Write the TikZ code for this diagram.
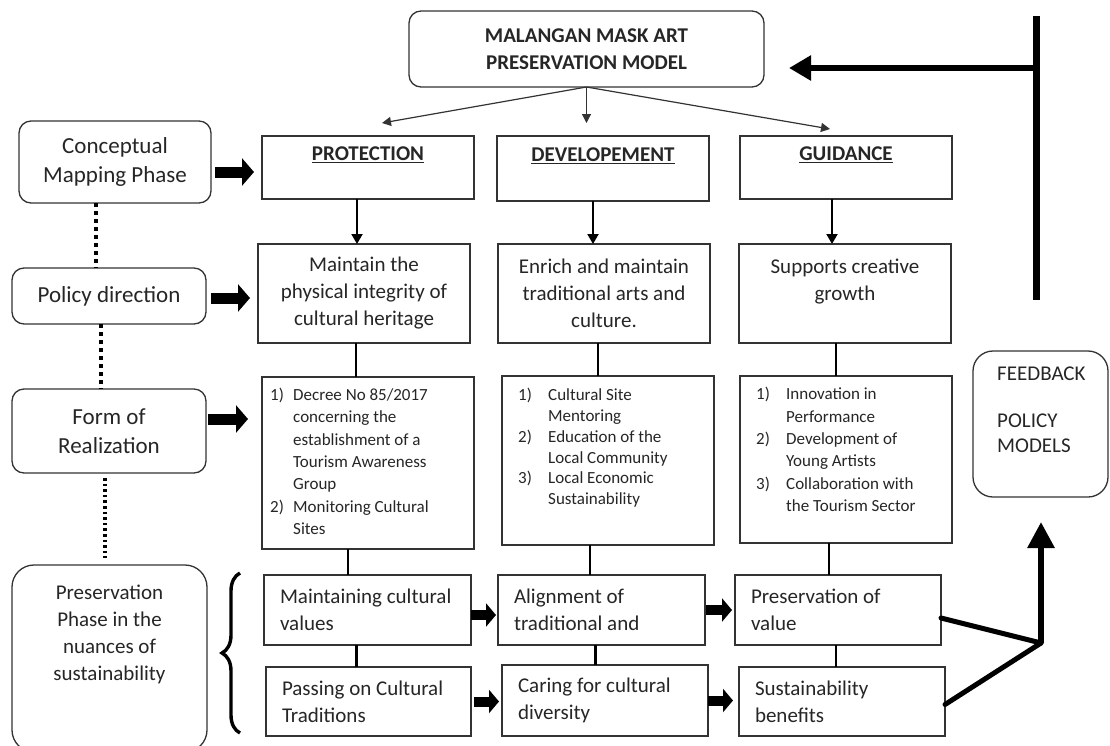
\documentclass[tikz,border=0pt]{standalone}
\usepackage{fontspec}
\setmainfont{Carlito}
\usetikzlibrary{arrows.meta,decorations.pathreplacing,calc}
\definecolor{txt}{HTML}{262626}
\definecolor{edge}{HTML}{333333}
\begin{document}
\begin{tikzpicture}[x=1pt,y=-1pt,
  box/.style={draw=edge,line width=1.3pt,inner sep=0pt,outer sep=0pt,text=txt,align=center,
    font=\fontsize{21}{27}\selectfont},
  rbox/.style={box,rounded corners=12pt,font=\fontsize{23}{29}\selectfont},
  lbox/.style={box,align=flush left,inner xsep=16pt},
  listtxt/.style={anchor=north west,inner sep=0pt,align=flush left,text=txt},
  thinarr/.style={draw=edge,line width=1.2pt,-{Triangle[length=9pt,width=9pt]}},
  downarr/.style={draw=black,line width=2pt,-{Triangle[length=10pt,width=11pt]}},
  conn/.style={draw=black,line width=2.6pt},
  fat/.style={draw=black,line width=11pt,-{Triangle[length=12pt,width=27pt]}},
  fatsm/.style={draw=black,line width=10pt,-{Triangle[length=10pt,width=23pt]}},
  dotl/.style={draw=black,line width=4pt,dash pattern=on 4pt off 4pt},
  dotf/.style={draw=black,line width=3.2pt,dash pattern=on 2.6pt off 3pt},
  heavy/.style={draw=black,line width=5pt},
]
\useasboundingbox[fill=white] (0,0) rectangle (1110,745);

% top
\node[box,rounded corners=12pt,minimum width=355,minimum height=76,font=\fontsize{21}{27}\selectfont\bfseries]
  (top) at (586.5,49) {MALANGAN MASK ART\\PRESERVATION MODEL};

% left column
\node[rbox,minimum width=192,minimum height=82] (concept) at (115,162) {Conceptual\\Mapping Phase};
\node[rbox,minimum width=194,minimum height=56] (policy) at (109,296) {Policy direction};
\node[rbox,minimum width=194,minimum height=84] (form) at (109,431) {Form of\\Realization};
\node[box,rounded corners=22pt,minimum width=195,minimum height=187] (pres) at (109.5,658.5) {};
\node[anchor=north,inner sep=0pt,align=center,text=txt,font=\fontsize{21}{27}\selectfont]
  (prestext) at ([yshift=-20pt]pres.north) {Preservation\\Phase in the\\nuances of\\sustainability};

% title boxes
\node[box,minimum width=212,minimum height=63] (prot) at (368,167.5) {\textbf{\underline{PROTECTION}}\\\mbox{}};
\node[box,minimum width=212,minimum height=65] (dev) at (603,168.5) {\textbf{\underline{DEVELOPEMENT}}\\\mbox{}};
\node[box,minimum width=212,minimum height=63] (guid) at (846,167.5) {\textbf{\underline{GUIDANCE}}\\\mbox{}};

% policy boxes
\node[box,minimum width=212,minimum height=99] (maint) at (364,293.5) {Maintain the\\physical integrity of\\cultural heritage};
\node[box,minimum width=212,minimum height=99] (enrich) at (604,293.5) {Enrich and maintain\\traditional arts and\\culture.};
\node[box,minimum width=212,minimum height=99] (supp) at (845,293.5) {Supports creative\\growth\\\mbox{}};

% realization boxes
\node[box,minimum width=212,minimum height=172] (decree) at (368,463) {};
\node[box,minimum width=212,minimum height=169] (devreal) at (608,460.5) {};
\node[box,minimum width=212,minimum height=167] (guidreal) at (846,459.5) {};
\node[listtxt,font=\fontsize{17}{22.3}\selectfont] (decreetxt) at ([xshift=8pt,yshift=-11pt]decree.north west)
 {\makebox[23pt][l]{1)}Decree No 85/2017\\
  \hspace*{23pt}concerning the\\
  \hspace*{23pt}establishment of a\\
  \hspace*{23pt}Tourism Awareness\\
  \hspace*{23pt}Group\\
  \makebox[23pt][l]{2)}Monitoring Cultural\\
  \hspace*{23pt}Sites};
\node[listtxt,font=\fontsize{17}{20.8}\selectfont] (devtxt) at ([xshift=16pt,yshift=-12pt]devreal.north west)
 {\makebox[30pt][l]{1)}Cultural Site\\
  \hspace*{30pt}Mentoring\\
  \makebox[30pt][l]{2)}Education of the\\
  \hspace*{30pt}Local Community\\
  \makebox[30pt][l]{3)}Local Economic\\
  \hspace*{30pt}Sustainability};
\node[listtxt,font=\fontsize{17}{22.4}\selectfont] (guidtxt) at ([xshift=16pt,yshift=-11pt]guidreal.north west)
 {\makebox[30pt][l]{1)}Innovation in\\
  \hspace*{30pt}Performance\\
  \makebox[30pt][l]{2)}Development of\\
  \hspace*{30pt}Young Artists\\
  \makebox[30pt][l]{3)}Collaboration with\\
  \hspace*{30pt}the Tourism Sector};

% bottom boxes
\node[lbox,minimum width=207,minimum height=70,text width=175] (mcv) at (367.5,610) {Maintaining cultural\\values};
\node[lbox,minimum width=207,minimum height=70,text width=175] (align) at (601.5,610) {Alignment of\\traditional and};
\node[lbox,minimum width=206,minimum height=70,text width=174] (pv) at (838,610) {Preservation of\\value};
\node[lbox,minimum width=205,minimum height=69,text width=173] (pass) at (368.5,701.5) {Passing on Cultural\\Traditions};
\node[lbox,minimum width=206,minimum height=71,text width=174] (caring) at (605,700.5) {Caring for cultural\\diversity};
\node[lbox,minimum width=206,minimum height=69,text width=174] (sb) at (842,701.5) {Sustainability\\benefits};

% feedback box
\node[box,rounded corners=20pt,minimum width=135,minimum height=146] (fb) at (1040.5,424) {};
\node[anchor=north west,inner sep=0pt,align=flush left,text=txt,font=\fontsize{21}{25}\selectfont]
  (fbtxt) at ([xshift=24pt,yshift=-16pt]fb.north west) {FEEDBACK\\[22pt]POLICY\\MODELS};

% thin arrows from top
\draw[thinarr] (top.south) -- ([xshift=14pt,yshift=13pt]prot.north);
\draw[thinarr] (top.south) -- ([yshift=13pt]top.south |- dev.north);
\draw[thinarr] (top.south) -- ([xshift=-16pt,yshift=7pt]guid.north);

% down arrows
\draw[downarr] ([xshift=-11pt]prot.south) -- ([xshift=-11pt]prot.south |- maint.north);
\draw[downarr] ([xshift=-10pt]dev.south) -- ([xshift=-10pt]dev.south |- enrich.north);
\draw[downarr] ([xshift=-14pt]guid.south) -- ([xshift=-14pt]guid.south |- supp.north);

% plain connectors
\draw[conn] ([xshift=-8pt]maint.south) -- ([xshift=-8pt]maint.south |- decree.north);
\draw[conn] ([xshift=-6pt]enrich.south) -- ([xshift=-6pt]enrich.south |- devreal.north);
\draw[conn] ([xshift=-9pt]supp.south) -- ([xshift=-9pt]supp.south |- guidreal.north);
\draw[conn] ([xshift=-20pt]decree.south) -- ([xshift=-20pt]decree.south |- mcv.north);
\draw[conn] ([xshift=-18pt]devreal.south) -- ([xshift=-18pt]devreal.south |- align.north);
\draw[conn] ([xshift=-17pt]guidreal.south) -- ([xshift=-17pt]guidreal.south |- pv.north);
\draw[conn] ([xshift=-11pt]mcv.south) -- ([xshift=-11pt]mcv.south |- pass.north);
\draw[conn] ([xshift=-6pt]align.south) -- ([xshift=-6pt]align.south |- caring.north);
\draw[conn] ([xshift=-2pt]pv.south) -- ([xshift=-2pt]pv.south |- sb.north);

% fat arrows
\draw[fat,shorten <=4pt,shorten >=8pt] ([yshift=-10pt]concept.east) -- ([yshift=-10pt]concept.east -| prot.west);
\draw[fat,shorten <=5pt,shorten >=8pt] ([yshift=-2pt]policy.east) -- ([yshift=-2pt]policy.east -| maint.west);
\draw[fat,shorten <=2pt,shorten >=14pt] ([yshift=12pt]form.east) -- ([yshift=12pt]form.east -| decree.west);
\draw[fatsm,shorten >=2pt] ([yshift=-5pt]mcv.east) -- ([yshift=-5pt]mcv.east -| align.west);
\draw[fatsm,shorten <=3pt,shorten >=3pt] ([yshift=0pt]pass.east) -- ([yshift=0pt]pass.east -| caring.west);
\draw[fatsm,shorten <=1pt,shorten >=3pt] ([yshift=0pt]align.east) -- ([yshift=0pt]align.east -| pv.west);
\draw[fatsm,shorten >=6pt] ([yshift=0pt]caring.east) -- ([yshift=0pt]caring.east -| sb.west);

% dotted links
\draw[dotl] ([xshift=-19pt]concept.south) -- ([xshift=-19pt]concept.south |- policy.north);
\draw[dotl] ([xshift=-8pt]policy.south) -- ([xshift=-8pt]policy.south |- form.north);
\draw[dotf,shorten <=5pt,shorten >=7pt] ([xshift=-4pt]form.south) -- ([xshift=-4pt]form.south |- pres.north);

% brace
\draw[line width=3.4pt,decorate,decoration={brace,amplitude=18pt}] (240,733) -- (240,573);

% feedback to FEEDBACK POLICY MODELS
\coordinate (junc) at (1041,643);
\draw[heavy,line cap=round] ([yshift=-8pt]pv.east) -- (junc);
\draw[heavy,line cap=round] ([yshift=-3pt]sb.east) -- (junc);
\draw[draw=black,line width=6pt,-{Triangle[length=26pt,width=26pt]},shorten >=25pt] (junc) -- (junc |- fb.south);

% big feedback bar
\coordinate (fbtop) at (1036,16);
\coordinate (fbbot) at (1036,300);
\coordinate (fbmid) at (1036,68);
\draw[draw=black,line width=7pt] (fbtop) -- (fbbot);
\draw[draw=black,line width=6.5pt,-{Triangle[length=22pt,width=24pt]},shorten >=25pt] (fbmid) -- (fbmid -| top.east);
\end{tikzpicture}
\end{document}
